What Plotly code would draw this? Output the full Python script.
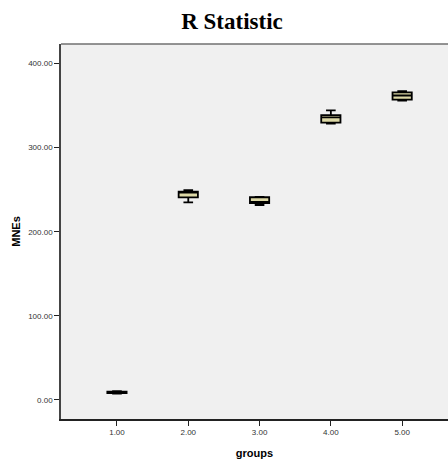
import plotly.graph_objects as go

groups = [1, 2, 3, 4, 5]
group_labels = ["1.00", "2.00", "3.00", "4.00", "5.00"]
lower_whisker = [7.5, 234.9, 231.8, 328.5, 355.9]
q1_vals = [8.2, 240.8, 234.2, 329.7, 357.0]
median_vals = [9.0, 246.4, 235.6, 336.0, 362.0]
q3_vals = [9.8, 247.6, 241.0, 338.7, 365.8]
upper_whisker = [10.5, 249.6, 241.5, 344.4, 367.0]
y_ticks = [0, 100, 200, 300, 400]
y_tick_labels = ["0.00", "100.00", "200.00", "300.00", "400.00"]

W, H = 448, 463

fig = go.Figure()
fig.add_trace(go.Box(
    x=groups, q1=q1_vals, median=median_vals, q3=q3_vals,
    lowerfence=lower_whisker, upperfence=upper_whisker,
    width=0.27, whiskerwidth=0.5, fillcolor="#dcd8a6",
    line=dict(color="black", width=1.8), hoverinfo="skip", showlegend=False,
))

fig.update_layout(
    template="none",
    width=W, height=H,
    margin=dict(l=61, r=0, t=44, b=44, pad=0),
    paper_bgcolor="white",
    plot_bgcolor="#f0f0f0",
    title=dict(text="<b>R Statistic</b>", x=232 / W, xanchor="center",
               y=1 - 21 / H, yanchor="middle",
               font=dict(family="Liberation Serif", size=23, color="black")),
    xaxis=dict(range=[0.215, 5.643], tickvals=groups, ticktext=group_labels,
               automargin=False,
               showgrid=False, zeroline=False, showline=True, linecolor="#222", linewidth=1.5,
               ticks="outside", ticklen=5, tickcolor="#222", tickwidth=1,
               tickfont=dict(family="Liberation Sans", size=8, color="#333"),
               title=dict(text="<b>groups</b>", standoff=13,
                          font=dict(family="Liberation Sans", size=11, color="black"))),
    yaxis=dict(range=[-22.6, 423.2], tickvals=y_ticks, ticktext=y_tick_labels,
               automargin=False,
               showgrid=False, zeroline=False, showline=True, linecolor="#444", linewidth=1.5,
               ticks="outside", ticklen=5, tickcolor="#222", tickwidth=1,
               tickfont=dict(family="Liberation Sans", size=8, color="#333"),
               title=dict(text="<b>MNEs</b>", standoff=5,
                          font=dict(family="Liberation Sans", size=11, color="black"))),
)
fig.add_shape(type="line", xref="paper", yref="paper", x0=0, x1=1, y0=1, y1=1,
              line=dict(color="#707070", width=1.5))

fig.write_html(
    "out.html",
    config={"displayModeBar": False},
    post_script="document.body.style.margin='0';document.body.style.overflow='hidden';",
)
